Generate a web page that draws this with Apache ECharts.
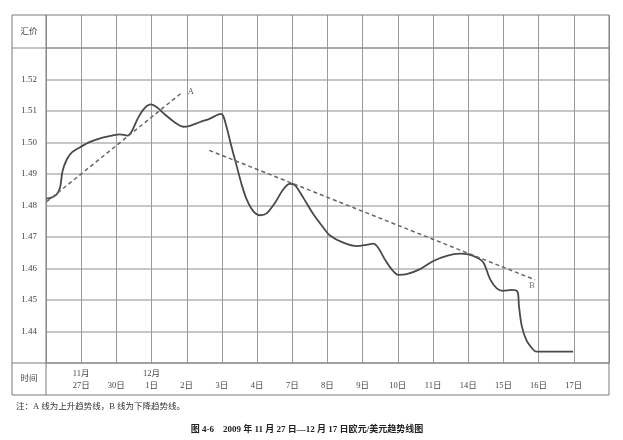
<!DOCTYPE html>
<html>
<head>
<meta charset="utf-8">
<script src="https://cdn.jsdelivr.net/npm/echarts@6/dist/echarts.min.js"></script>
<style>html,body{margin:0;padding:0;background:#fff;}#c{width:623px;height:440px;}</style>
</head>
<body>
<div id="c"></div>
<script>
// ---- data ----
var xDays = ['', '27日', '30日', '1日', '2日', '3日', '4日', '7日', '8日', '9日', '10日', '11日', '14日', '15日', '16日', '17日', ''];
var xMonths = ['', '11月', '', '12月', '', '', '', '', '', '', '', '', '', '', '', '', ''];
var yTicks = [1.44, 1.45, 1.46, 1.47, 1.48, 1.49, 1.50, 1.51, 1.52];

var curveX = [0, 0.16, 0.30, 0.40, 0.47, 0.59, 0.73, 0.97, 1.25, 1.58, 1.91, 2.10, 2.31, 2.44, 2.62, 2.81, 2.98, 3.15, 3.38, 3.67, 3.90, 4.09, 4.38, 4.66, 4.97, 5.04, 5.15, 5.28, 5.42, 5.56, 5.70, 5.89, 6.08, 6.27, 6.51, 6.74, 6.93, 7.08, 7.31, 7.60, 7.88, 8.07, 8.45, 8.83, 9.11, 9.30, 9.44, 9.63, 9.82, 10.01, 10.25, 10.63, 11.01, 11.39, 11.76, 12.00, 12.24, 12.43, 12.62, 12.81, 12.99, 13.23, 13.40, 13.44, 13.52, 13.66, 13.85, 13.94, 14.98];
var curveY = [1.4822, 1.4825, 1.4835, 1.4857, 1.4909, 1.4946, 1.4968, 1.4985, 1.5002, 1.5015, 1.5023, 1.5026, 1.5022, 1.5036, 1.5079, 1.5110, 1.5121, 1.5112, 1.5089, 1.5063, 1.5050, 1.5053, 1.5065, 1.5076, 1.5091, 1.5084, 1.5041, 1.4983, 1.4925, 1.4867, 1.4820, 1.4782, 1.4769, 1.4775, 1.4809, 1.4851, 1.4869, 1.4864, 1.4825, 1.4772, 1.4730, 1.4705, 1.4682, 1.4671, 1.4675, 1.4679, 1.4666, 1.4629, 1.4598, 1.4580, 1.4582, 1.4598, 1.4624, 1.4640, 1.4647, 1.4645, 1.4635, 1.4619, 1.4566, 1.4537, 1.4529, 1.4532, 1.4526, 1.4482, 1.4418, 1.4371, 1.4342, 1.4336, 1.4336];

var trendAX = [0.02, 3.86];
var trendAY = [1.4812, 1.5158];
var trendBX = [4.64, 13.90];
var trendBY = [1.4975, 1.4564];

var noteText = '注：A 线为上升趋势线，B 线为下降趋势线。';
var captionText = '图 4-6　2009 年 11 月 27 日—12 月 17 日欧元/美元趋势线图';

function pairs(xs, ys) { return xs.map(function (x, i) { return [x, ys[i]]; }); }

var FONT = '"Liberation Serif", "Noto Sans CJK SC", serif';
var chart = echarts.init(document.getElementById('c'));
var gridLineV = { show: true, lineStyle: { color: '#9a9a9a', width: 1 } };

chart.setOption({
  backgroundColor: '#ffffff',
  animation: false,
  grid: [
    { left: 46, right: 14, top: 48, bottom: 77, show: false },
    { left: 46, right: 14, top: 15, height: 33, show: false }
  ],
  xAxis: [
    {
      type: 'value', gridIndex: 0, min: 0, max: 16, interval: 1,
      axisLine: { show: false }, axisTick: { show: false },
      splitLine: gridLineV,
      axisLabel: {
        margin: 5, lineHeight: 12, fontSize: 8.5, color: '#444', fontFamily: FONT,
        formatter: function (v) { var i = Math.round(v); return (xMonths[i] || ' ') + '\n' + (xDays[i] || ''); }
      }
    },
    {
      type: 'value', gridIndex: 1, min: 0, max: 16, interval: 1,
      axisLine: { show: false }, axisTick: { show: false }, axisLabel: { show: false },
      splitLine: gridLineV
    }
  ],
  yAxis: [
    {
      type: 'value', gridIndex: 0, min: 1.43, max: 1.53, interval: 0.01,
      axisLine: { show: false }, axisTick: { show: false },
      splitLine: { show: true, lineStyle: { color: '#b4b4b4', width: 1.5 } },
      axisLabel: {
        align: 'center', margin: 17, fontSize: 9, color: '#444', fontFamily: FONT,
        formatter: function (v) {
          for (var i = 0; i < yTicks.length; i++) { if (Math.abs(yTicks[i] - v) < 1e-6) return yTicks[i].toFixed(2); }
          return '';
        }
      }
    },
    {
      type: 'value', gridIndex: 1, min: 0, max: 1,
      axisLine: { show: false }, axisTick: { show: false }, axisLabel: { show: false }, splitLine: { show: false }
    }
  ],
  series: [
    {
      type: 'line', xAxisIndex: 0, yAxisIndex: 0, data: pairs(curveX, curveY),
      smooth: 0.3, showSymbol: false, symbol: 'none',
      lineStyle: { color: '#4a4a4a', width: 1.8 }
    },
    {
      type: 'line', xAxisIndex: 0, yAxisIndex: 0, data: pairs(trendAX, trendAY),
      showSymbol: false, symbol: 'none',
      lineStyle: { color: '#666', width: 1.5, type: [4, 3] },
      endLabel: { show: true, formatter: 'A', color: '#555', fontSize: 8.5, fontFamily: FONT, distance: 6, offset: [0, -1] }
    },
    {
      type: 'line', xAxisIndex: 0, yAxisIndex: 0, data: pairs(trendBX, trendBY),
      showSymbol: false, symbol: 'none',
      lineStyle: { color: '#666', width: 1.5, type: [4, 3] },
      endLabel: { show: true, formatter: 'B', color: '#777', fontSize: 8.5, fontFamily: FONT, distance: 0, offset: [-6, 6] }
    }
  ],
  graphic: [
    { type: 'rect', shape: { x: 12, y: 15, width: 597, height: 380 }, style: { fill: 'none', stroke: '#7a7a7a', lineWidth: 1 }, z: 10 },
    { type: 'line', shape: { x1: 12, y1: 48, x2: 609, y2: 48 }, style: { stroke: '#8a8a8a', lineWidth: 1.2 }, z: 10 },
    { type: 'line', shape: { x1: 12, y1: 363, x2: 609, y2: 363 }, style: { stroke: '#7a7a7a', lineWidth: 1 }, z: 10 },
    { type: 'line', shape: { x1: 46, y1: 15, x2: 46, y2: 395 }, style: { stroke: '#7a7a7a', lineWidth: 1 }, z: 10 },
    { type: 'text', x: 29, y: 32, style: { text: '汇价', fill: '#444', font: '8.5px ' + FONT, align: 'center', verticalAlign: 'middle' }, z: 10 },
    { type: 'text', x: 29, y: 379, style: { text: '时间', fill: '#444', font: '8.5px ' + FONT, align: 'center', verticalAlign: 'middle' }, z: 10 },
    { type: 'text', x: 16, y: 407, style: { text: noteText, fill: '#333', font: '8.5px ' + FONT, align: 'left', verticalAlign: 'middle' }, z: 10 },
    { type: 'text', x: 307, y: 430, style: { text: captionText, fill: '#222', font: 'bold 9px ' + FONT, align: 'center', verticalAlign: 'middle' }, z: 10 }
  ]
});
</script>
</body>
</html>
